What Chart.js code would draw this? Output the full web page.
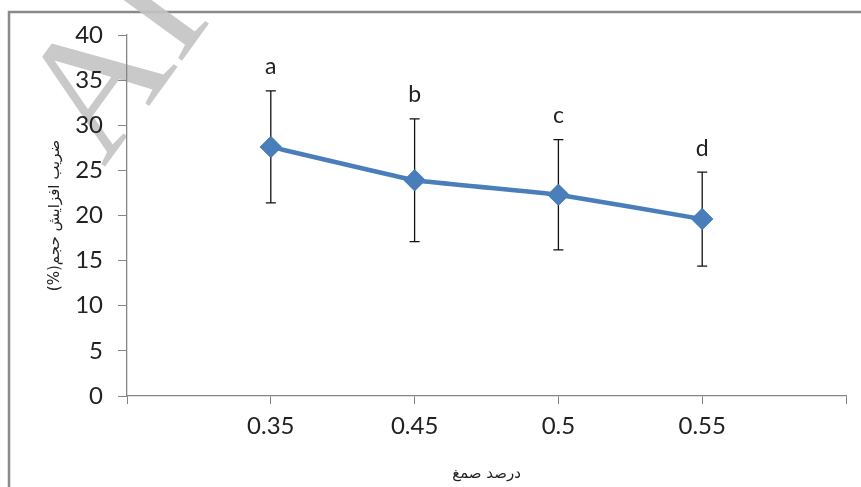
<!DOCTYPE html>
<html>
<head>
<meta charset="utf-8">
<script src="https://cdn.jsdelivr.net/npm/chart.js@4/dist/chart.umd.min.js"></script>
<style>
  html, body { margin: 0; padding: 0; background: #fff; }
  #wrap { width: 861px; height: 487px; }
</style>
</head>
<body>
<div id="wrap"><canvas id="lineChart" width="861" height="487"></canvas></div>
<script>
// data
const categories = ["0.35", "0.45", "0.5", "0.55"];
const swellValues = [27.6, 23.9, 22.3, 19.6];
const errorValues = [6.2, 6.8, 6.1, 5.2];
const groupLetters = ["a", "b", "c", "d"];
const yTicks = [0, 5, 10, 15, 20, 25, 30, 35, 40];

// empty slot at both ends, like the excel axis
const axisLabels = ["", ...categories, ""];
const lineData = [null, ...swellValues, null];
const errData = [null, ...errorValues, null];

const FONT = "Lato, 'Open Sans', 'DejaVu Sans', sans-serif";
const RLM = "\u200F";

const framePlugin = {
  id: "frame",
  beforeDraw(chart) {
    const ctx = chart.ctx;
    ctx.save();
    ctx.strokeStyle = "#8a8a8a";
    ctx.lineWidth = 2.5;
    ctx.beginPath();
    ctx.moveTo(9, 500);
    ctx.lineTo(9, 12);
    ctx.lineTo(870, 12);
    ctx.stroke();
    // watermark
    ctx.translate(104, 168);
    ctx.rotate(-54 * Math.PI / 180);
    ctx.fillStyle = "rgba(195,195,195,0.9)";
    ctx.font = "175px 'Liberation Serif', serif";
    ctx.fillText("AIC", 0, 0);
    ctx.restore();
  },
};

const errorBarPlugin = {
  id: "errorBars",
  afterDatasetsDraw(chart) {
    const ctx = chart.ctx;
    const xs = chart.scales.x;
    const ys = chart.scales.y;
    ctx.save();
    lineData.forEach((v, i) => {
      if (v === null) return;
      const x = xs.getPixelForValue(i);
      const top = ys.getPixelForValue(v + errData[i]);
      const bot = ys.getPixelForValue(v - errData[i]);
      ctx.strokeStyle = "#111";
      ctx.lineWidth = 1.3;
      ctx.beginPath();
      ctx.moveTo(x, top);
      ctx.lineTo(x, bot);
      ctx.moveTo(x - 5, top);
      ctx.lineTo(x + 5, top);
      ctx.moveTo(x - 5, bot);
      ctx.lineTo(x + 5, bot);
      ctx.stroke();
      ctx.fillStyle = "#222";
      ctx.font = "23px " + FONT;
      ctx.textAlign = "center";
      ctx.textBaseline = "middle";
      ctx.fillText(groupLetters[i - 1], x, top - 24);
    });
    ctx.restore();
    // redraw the markers over the error lines
    const meta = chart.getDatasetMeta(0);
    meta.data.forEach((pt) => { if (!pt.skip) pt.draw(ctx, chart.chartArea); });
  },
};

new Chart(document.getElementById("lineChart"), {
  type: "line",
  data: {
    labels: axisLabels,
    datasets: [
      {
        data: lineData,
        borderColor: "#4a7ebb",
        backgroundColor: "#4a7ebb",
        borderWidth: 4.5,
        pointStyle: "rectRot",
        pointRadius: 11,
        pointHoverRadius: 11,
        pointBorderWidth: 0,
        tension: 0.05,
      },
    ],
  },
  options: {
    responsive: false,
    animation: false,
    events: [],
    layout: { padding: { top: 35, right: 15, left: 20, bottom: 4 } },
    plugins: {
      legend: { display: false },
      tooltip: { enabled: false },
    },
    scales: {
      x: {
        type: "category",
        offset: false,
        grid: {
          display: true,
          drawOnChartArea: false,
          drawTicks: true,
          tickLength: 8,
          tickColor: "#868686",
        },
        border: { color: "#868686", width: 1.3 },
        ticks: {
          autoSkip: false,
          maxRotation: 0,
          padding: 8,
          color: "#222",
          font: { family: FONT, size: 24 },
        },
        title: {
          display: true,
          text: "درصد صمغ",
          color: "#222",
          padding: { top: 13, bottom: 0 },
          font: { family: "'DejaVu Sans', sans-serif", size: 15 },
        },
        afterFit: (s) => { s.height = 487 - 396 - 4; },
      },
      y: {
        min: 0,
        max: 40,
        afterBuildTicks: (s) => { s.ticks = yTicks.map((v) => ({ value: v })); },
        grid: {
          display: true,
          drawOnChartArea: false,
          drawTicks: true,
          tickLength: 9,
          tickColor: "#868686",
        },
        border: { color: "#868686", width: 1.3 },
        ticks: {
          padding: 15,
          color: "#222",
          font: { family: FONT, size: 24 },
        },
        title: {
          display: true,
          text: RLM + "ضریب افزایش حجم(%)" + RLM,
          color: "#222",
          padding: { top: 26, bottom: 0 },
          font: { family: "'DejaVu Sans', sans-serif", size: 15 },
        },
        afterFit: (s) => { s.width = 127 - 20; },
      },
    },
  },
  plugins: [framePlugin, errorBarPlugin],
});
</script>
</body>
</html>
